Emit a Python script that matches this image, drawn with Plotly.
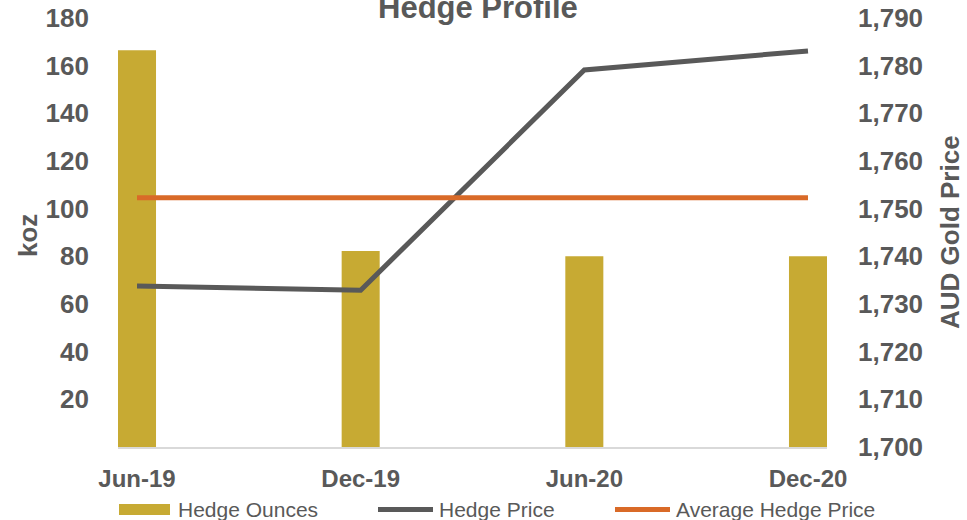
import plotly.graph_objects as go

# ---- data ----
periods = ["Jun-19", "Dec-19", "Jun-20", "Dec-20"]
hedge_ounces = [166.5, 82.2, 80.0, 80.0]          # koz
hedge_price = [1733.8, 1732.9, 1779.1, 1783.1]    # AUD/oz
average_hedge_price = [1752.3, 1752.3, 1752.3, 1752.3]
left_ticks = [20, 40, 60, 80, 100, 120, 140, 160, 180]
right_ticks = [1700, 1710, 1720, 1730, 1740, 1750, 1760, 1770, 1780, 1790]

# ---- style ----
W, H = 967, 520
L, R, T, B = 118, 827, 18, 447   # plot area in pixels
GOLD = "#C7AA33"
GREY = "#595959"
ORANGE = "#D96A28"
TXT = "#595959"
FONT = "Liberation Sans, Arial, sans-serif"


def px(x):
    return (x - L) / (R - L)


def py(y):
    return (B - y) / (B - T)


fig = go.Figure()
fig.add_trace(go.Bar(x=periods, y=hedge_ounces, name="Hedge Ounces",
                     marker=dict(color=GOLD, line=dict(width=0)), width=0.17,
                     yaxis="y"))
fig.add_trace(go.Scatter(x=periods, y=hedge_price, name="Hedge Price", mode="lines",
                         line=dict(color=GREY, width=5), yaxis="y2"))
fig.add_trace(go.Scatter(x=periods, y=average_hedge_price, name="Average Hedge Price",
                         mode="lines", line=dict(color=ORANGE, width=5), yaxis="y2"))

fig.update_layout(
    width=W, height=H,
    margin=dict(l=L, r=W - R, t=T, b=H - B, pad=0, autoexpand=False),
    paper_bgcolor="white", plot_bgcolor="white",
    showlegend=False,
    font=dict(family=FONT, color=TXT),
    xaxis=dict(type="category", range=[-0.085, 3.085], showgrid=False, zeroline=False,
               showline=True, linecolor="#D9D9D9", linewidth=2, ticks="",
               automargin=False,
               tickfont=dict(size=24, color=TXT, family=FONT, weight="bold"),
               ticklabelstandoff=9),
    yaxis=dict(range=[0, 180], tickvals=left_ticks, showgrid=False, zeroline=False,
               showline=False, ticks="", automargin=False,
               tickfont=dict(size=26, color=TXT, family=FONT, weight="bold"),
               ticklabelstandoff=28),
    yaxis2=dict(range=[1700, 1790], tickvals=right_ticks, tickformat=",",
                overlaying="y", side="right", showgrid=False, zeroline=False,
                showline=False, ticks="", automargin=False,
                tickfont=dict(size=26, color=TXT, family=FONT, weight="bold"),
                ticklabelstandoff=30),
)

annotations = [
    dict(text="<b>Hedge Profile</b>", x=px(478), y=py(7), xref="paper", yref="paper",
         showarrow=False, font=dict(size=31, color=TXT, family=FONT),
         xanchor="center", yanchor="middle"),
    dict(text="<b>koz</b>", x=px(28), y=py(236), xref="paper", yref="paper",
         showarrow=False, textangle=-90, font=dict(size=26, color=TXT, family=FONT),
         xanchor="center", yanchor="middle"),
    dict(text="<b>AUD Gold Price</b>", x=px(950), y=py(232), xref="paper", yref="paper",
         showarrow=False, textangle=-90, font=dict(size=26, color=TXT, family=FONT),
         xanchor="center", yanchor="middle"),
]

# manual legend
LEG_Y = 509.5
legend_items = [
    ("Hedge Ounces", "rect", GOLD, 119, 170, 176),
    ("Hedge Price", "line", GREY, 378, 433, 437),
    ("Average Hedge Price", "line", ORANGE, 615, 670, 674),
]
shapes = []
for label, kind, color, x0, x1, tx in legend_items:
    if kind == "rect":
        shapes.append(dict(type="rect", xref="paper", yref="paper",
                           x0=px(x0), x1=px(x1), y0=py(515), y1=py(504),
                           fillcolor=color, line=dict(width=0)))
    else:
        shapes.append(dict(type="line", xref="paper", yref="paper",
                           x0=px(x0), x1=px(x1), y0=py(LEG_Y), y1=py(LEG_Y),
                           line=dict(color=color, width=5)))
    annotations.append(dict(text=label, x=px(tx), y=py(LEG_Y), xref="paper", yref="paper",
                            showarrow=False, font=dict(size=21, color=TXT, family=FONT),
                            xanchor="left", yanchor="middle"))

fig.update_layout(annotations=annotations, shapes=shapes)
fig.write_html("out.html")
